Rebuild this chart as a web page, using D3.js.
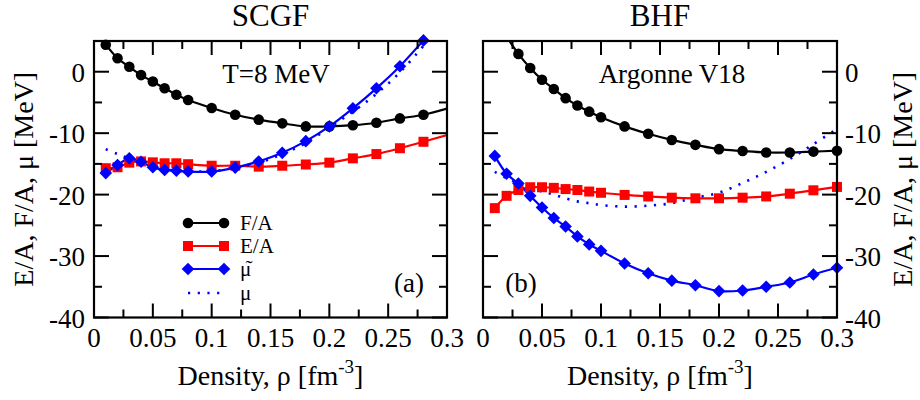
<!DOCTYPE html>
<html>
<head>
<meta charset="utf-8">
<script src="https://cdn.jsdelivr.net/npm/d3@7"></script>
<style>
  html, body { margin: 0; padding: 0; background: #fff; }
  svg { display: block; }
  svg text { font-family: "Liberation Serif", "Times New Roman", "DejaVu Serif", serif; }
</style>
</head>
<body>
<svg id="chart" width="920" height="400"></svg>
<script>
// Density grids [fm^-3]
const scgfRho = [0.01, 0.02, 0.03, 0.04, 0.05, 0.06, 0.07, 0.08, 0.10, 0.12, 0.14, 0.16, 0.18, 0.20, 0.22, 0.24, 0.26, 0.28, 0.30];
const bhfRho  = [0.01, 0.02, 0.03, 0.04, 0.05, 0.06, 0.07, 0.08, 0.09, 0.10, 0.12, 0.14, 0.16, 0.18, 0.20, 0.22, 0.24, 0.26, 0.28, 0.30];

// SCGF, T = 8 MeV  [MeV]
const scgfF   = [4.4, 2.2, 0.8, -0.55, -1.6, -2.7, -3.75, -4.6, -5.9, -7.0, -7.8, -8.4, -8.9, -8.9, -8.7, -8.3, -7.6, -7.0, -6.0];
const scgfE   = [-15.7, -15.55, -14.8, -14.6, -14.75, -14.9, -14.9, -15.05, -15.3, -15.3, -15.45, -15.3, -15.1, -14.8, -14.1, -13.4, -12.45, -11.4, -10.3];
const scgfMuT = [-16.5, -15.2, -14.1, -14.65, -15.55, -16.0, -16.1, -16.25, -16.25, -15.6, -14.6, -13.2, -11.3, -8.9, -5.95, -2.7, 0.9, 5.1, null];
const scgfMu  = [-12.6, -13.4, -14.1, -14.8, -15.5, -15.9, -16.1, -16.2, -16.2, -15.6, -14.8, -13.4, -11.6, -9.1, -6.5, -3.6, -0.1, 4.2, 8.6];

// BHF, Argonne V18  [MeV]
const bhfF   = [10.0, 5.8, 2.9, 0.6, -1.3, -2.8, -4.3, -5.5, -6.5, -7.4, -8.9, -10.1, -11.1, -11.9, -12.6, -12.9, -13.15, -13.15, -13.0, -12.85];
const bhfE   = [-22.2, -20.2, -19.25, -18.8, -18.8, -18.9, -19.1, -19.25, -19.5, -19.7, -20.05, -20.3, -20.5, -20.6, -20.6, -20.5, -20.3, -19.85, -19.3, -18.75];
const bhfMuT = [-13.7, -16.6, -18.2, -20.2, -22.1, -23.8, -25.2, -26.8, -28.1, -29.15, -31.2, -32.8, -34.0, -34.75, -35.7, -35.6, -35.0, -34.3, -33.0, -31.9];
const bhfMu  = [-16.3, -17.3, -18.2, -18.9, -19.5, -20.0, -20.6, -21.1, -21.4, -21.7, -21.95, -21.8, -21.4, -20.5, -19.7, -18.1, -16.3, -14.2, -11.8, -9.3];

// Axis ticks and labels
const xMajor = [0, 0.05, 0.10, 0.15, 0.20, 0.25, 0.30];
const xMajorLabels = ["0", "0.05", "0.1", "0.15", "0.2", "0.25", "0.3"];
const xMinor = [0.025, 0.075, 0.125, 0.175, 0.225, 0.275];
const yMajor = [0, -10, -20, -30, -40];
const yMajorLabels = ["0", "-10", "-20", "-30", "-40"];
const yMinor = [5, -5, -15, -25, -35];

// legend entries: base glyph plus an optional accent set over it
const legendLabels = ["F/A", "E/A", "\u03bc", "\u03bc"];
const legendAccents = [null, null, "\u02dc", null];

const svg = d3.select("#chart");

const plotTop = 41, plotBottom = 317.5;
const y = d3.scaleLinear().domain([-40, 5]).range([plotBottom, plotTop]);

const panels = [
  {
    id: "a", title: "SCGF", note: "T=8 MeV", tag: "(a)",
    left: 94, right: 447, rho: scgfRho,
    series: [
      { v: scgfF,   color: "#000", sym: "circle" },
      { v: scgfE,   color: "#f00", sym: "square" },
      { v: scgfMuT, color: "#00f", sym: "diamond" },
      { v: scgfMu,  color: "#00f", sym: null }
    ],
    markEdge: false, labelSide: "left",
    noteX: 276, tagX: 409, legend: true
  },
  {
    id: "b", title: "BHF", note: "Argonne V18", tag: "(b)",
    left: 483, right: 837, rho: bhfRho,
    series: [
      { v: bhfF,   color: "#000", sym: "circle" },
      { v: bhfE,   color: "#f00", sym: "square" },
      { v: bhfMuT, color: "#00f", sym: "diamond" },
      { v: bhfMu,  color: "#00f", sym: null }
    ],
    markEdge: true, labelSide: "right",
    noteX: 672, tagX: 521, legend: false
  }
];

function drawSymbol(g, sym, cx, cy, color) {
  if (sym === "circle") {
    g.append("circle").attr("cx", cx).attr("cy", cy).attr("r", 5.3).attr("fill", color);
  } else if (sym === "square") {
    g.append("rect").attr("x", cx - 5).attr("y", cy - 5).attr("width", 10).attr("height", 10).attr("fill", color);
  } else if (sym === "diamond") {
    const s = 6.3;
    g.append("path")
      .attr("d", `M${cx},${cy - s}L${cx + s},${cy}L${cx},${cy + s}L${cx - s},${cy}Z`)
      .attr("fill", color);
  }
}

panels.forEach(p => {
  const x = d3.scaleLinear().domain([0, 0.3]).range([p.left, p.right]);
  const g = svg.append("g");

  g.append("defs").append("clipPath").attr("id", "clip-" + p.id)
    .append("rect").attr("x", p.left).attr("y", plotTop)
    .attr("width", p.right - p.left).attr("height", plotBottom - plotTop);

  // curves
  const line = d3.line()
    .defined(d => d[1] !== null)
    .x(d => x(d[0])).y(d => y(d[1]))
    .curve(d3.curveCatmullRom.alpha(0.5));

  const plot = g.append("g");
  p.series.forEach(s => {
    const pts = p.rho.map((r, i) => [r, s.v[i]]);
    plot.append("path")
      .attr("clip-path", `url(#clip-${p.id})`)
      .attr("d", line(pts))
      .attr("fill", "none")
      .attr("stroke", s.color)
      .attr("stroke-width", s.sym ? 2.2 : 2.6)
      .attr("stroke-dasharray", s.sym ? null : "2.2,7.5");
  });
  p.series.forEach(s => {
    if (!s.sym) return;
    const mg = plot.append("g");
    p.rho.forEach((r, i) => {
      const v = s.v[i];
      if (v === null || v > 5.2 || v < -40) return;
      if (!p.markEdge && r >= 0.3) return;
      drawSymbol(mg, s.sym, x(r), y(v), s.color);
    });
  });

  // ticks (inward, on all four sides)
  const ax = g.append("g").attr("stroke", "#000").attr("stroke-width", 2);
  xMajor.forEach(t => {
    ax.append("line").attr("x1", x(t)).attr("x2", x(t)).attr("y1", plotBottom).attr("y2", plotBottom - 14);
    ax.append("line").attr("x1", x(t)).attr("x2", x(t)).attr("y1", plotTop).attr("y2", plotTop + 14);
  });
  xMinor.forEach(t => {
    ax.append("line").attr("x1", x(t)).attr("x2", x(t)).attr("y1", plotBottom).attr("y2", plotBottom - 8);
    ax.append("line").attr("x1", x(t)).attr("x2", x(t)).attr("y1", plotTop).attr("y2", plotTop + 8);
  });
  yMajor.forEach(t => {
    ax.append("line").attr("x1", p.left).attr("x2", p.left + 15).attr("y1", y(t)).attr("y2", y(t));
    ax.append("line").attr("x1", p.right).attr("x2", p.right - 15).attr("y1", y(t)).attr("y2", y(t));
  });
  yMinor.forEach(t => {
    ax.append("line").attr("x1", p.left).attr("x2", p.left + 8).attr("y1", y(t)).attr("y2", y(t));
    ax.append("line").attr("x1", p.right).attr("x2", p.right - 8).attr("y1", y(t)).attr("y2", y(t));
  });

  // frame
  g.append("rect").attr("x", p.left).attr("y", plotTop)
    .attr("width", p.right - p.left).attr("height", plotBottom - plotTop)
    .attr("fill", "none").attr("stroke", "#000").attr("stroke-width", 2.2);

  // tick labels
  const tl = g.append("g").attr("font-size", 27).attr("fill", "#000");
  xMajor.forEach((t, i) => {
    tl.append("text").attr("x", x(t)).attr("y", 347).attr("text-anchor", "middle").text(xMajorLabels[i]);
  });
  yMajor.forEach((t, i) => {
    if (p.labelSide === "left") {
      tl.append("text").attr("x", p.left - 9).attr("y", y(t) + 10).attr("text-anchor", "end").text(yMajorLabels[i]);
    } else {
      tl.append("text").attr("x", p.right + 8).attr("y", y(t) + 10).attr("text-anchor", "start").text(yMajorLabels[i]);
    }
  });

  // titles and annotations
  g.append("text").attr("x", (p.left + p.right) / 2).attr("y", 26)
    .attr("text-anchor", "middle").attr("font-size", 31).text(p.title);
  g.append("text").attr("x", p.noteX).attr("y", 83)
    .attr("text-anchor", "middle").attr("font-size", 27).text(p.note);
  g.append("text").attr("x", p.tagX).attr("y", 292)
    .attr("text-anchor", "middle").attr("font-size", 27).text(p.tag);

  // x axis title
  const xt = g.append("text").attr("x", (p.left + p.right) / 2).attr("y", 385)
    .attr("text-anchor", "middle").attr("font-size", 28);
  xt.append("tspan").text("Density, \u03c1 [fm");
  xt.append("tspan").attr("font-size", 19).attr("dy", -12).text("-3");
  xt.append("tspan").attr("dy", 12).text("]");

  // y axis title
  const yx = p.labelSide === "left" ? 33 : 912;
  g.append("text")
    .attr("transform", `translate(${yx},${(plotTop + plotBottom) / 2}) rotate(-90)`)
    .attr("text-anchor", "middle").attr("font-size", 28)
    .text("E/A, F/A, \u03bc [MeV]");

  // legend
  if (p.legend) {
    const lg = g.append("g");
    const ly = [223, 246, 269, 293];
    p.series.forEach((s, i) => {
      lg.append("line").attr("x1", 188).attr("x2", 224).attr("y1", ly[i]).attr("y2", ly[i])
        .attr("stroke", s.color).attr("stroke-width", s.sym ? 2.2 : 2.6)
        .attr("stroke-dasharray", s.sym ? null : "2.2,7.5");
      if (s.sym) {
        drawSymbol(lg, s.sym, 188, ly[i], s.color);
        drawSymbol(lg, s.sym, 224, ly[i], s.color);
      }
      const t = lg.append("text").attr("x", 240).attr("y", ly[i] + 7).attr("font-size", 21);
      t.append("tspan").text(legendLabels[i]);
      if (legendAccents[i]) {
        t.append("tspan").attr("x", 245.5).attr("dy", -1).text(legendAccents[i]);
      }
    });
  }
});
</script>
</body>
</html>
